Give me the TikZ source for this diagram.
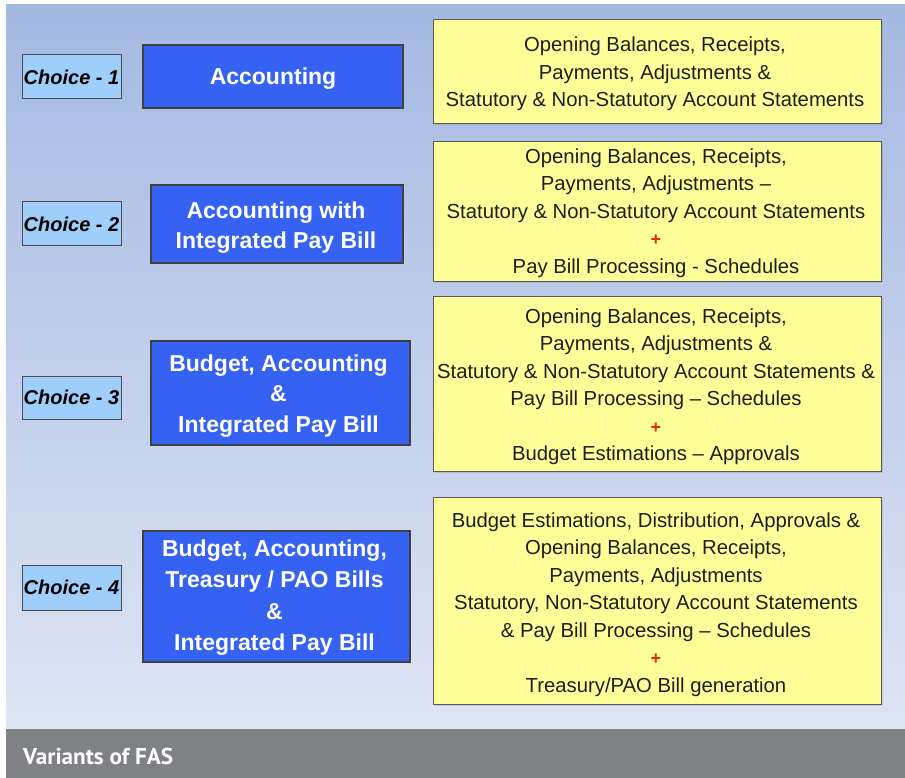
\documentclass[tikz,border=0pt]{standalone}
\usepackage{fontspec}
\setmainfont{Liberation Sans}
\newfontfamily\capfont{PT Sans}
\usetikzlibrary{shadows}
\definecolor{bgtop}{RGB}{164,185,226}
\definecolor{bgbot}{RGB}{222,229,244}
\definecolor{band}{RGB}{128,129,133}
\definecolor{choicefill}{RGB}{160,206,250}
\definecolor{bluefill}{RGB}{54,98,244}
\definecolor{yellowfill}{RGB}{255,255,153}
\definecolor{plusred}{RGB}{235,40,20}
\definecolor{txtdark}{RGB}{30,30,30}
\newcommand{\redplus}{\textcolor{plusred}{\fontsize{18}{27.5}\selectfont\bfseries +}}
\begin{document}
\begin{tikzpicture}[x=1pt,y=-1pt,
  choicebox/.style={draw=black!70, line width=1pt, fill=choicefill, inner sep=0pt,
    minimum width=99pt, minimum height=44pt,
    font=\fontsize{20}{24}\selectfont\bfseries\itshape, text=black},
  bluebox/.style={draw=black!75, line width=1.2pt, fill=bluefill, inner sep=0pt},
  yellowbox/.style={draw=black!65, line width=1pt, fill=yellowfill, inner sep=0pt,
    drop shadow={opacity=0.25, shadow xshift=1.5pt, shadow yshift=-1.5pt}},
  bluetext/.style={text=white, align=center, inner sep=0pt},
  ytext/.style={text=txtdark, align=center, inner sep=0pt, anchor=north,
    font=\fontsize{20.3}{27.5}\selectfont},
]
% background
\fill[white] (0,0) rectangle (905,778);
\shade[top color=bgtop, bottom color=bgbot] (6,5) rectangle (905,729);
\fill[band] (6,729) rectangle (905,778);
\node[anchor=base west, inner sep=0pt, text=white] (cap) at (23,764)
  {\resizebox{150pt}{\height}{\capfont\bfseries\fontsize{22.9}{24}\selectfont Variants of FAS}};

% choice boxes
\node[choicebox] (c1) at (71.5,77) {Choice - 1};
\node[choicebox] (c2) at (71.5,224) {Choice - 2};
\node[choicebox, minimum height=43pt] (c3) at (71.5,397.5) {Choice - 3};
\node[choicebox, minimum height=45pt] (c4) at (71.5,587.5) {Choice - 4};

% blue boxes
\node[bluebox, minimum width=260pt, minimum height=63pt] (b1) at (273,76.5) {};
\node[bluebox, minimum width=252pt, minimum height=78pt] (b2) at (277,224) {};
\node[bluebox, minimum width=259pt, minimum height=104pt] (b3) at (280.5,393) {};
\node[bluebox, minimum width=267pt, minimum height=131pt] (b4) at (276.5,596.5) {};

\node[bluetext, anchor=base, font=\fontsize{23}{30}\selectfont\bfseries] (bt1) at (273,85) {Accounting};
\node[bluetext, anchor=north, font=\fontsize{23}{30}\selectfont\bfseries] (bt2) at (276,201.2)
  {Accounting with\\Integrated Pay Bill};
\node[bluetext, anchor=north, font=\fontsize{23}{30.5}\selectfont\bfseries] (bt3) at (278.5,354.2)
  {Budget, Accounting\\\&\\ Integrated Pay Bill};
\node[bluetext, anchor=north, font=\fontsize{23}{31.5}\selectfont\bfseries] (bt4) at (274.5,539.2)
  {Budget, Accounting,\\Treasury / PAO Bills\\\&\\Integrated Pay Bill};

% yellow boxes
\node[yellowbox, minimum width=448pt, minimum height=104pt] (y1) at (657,72) {};
\node[yellowbox, minimum width=448pt, minimum height=139pt] (y2) at (657,211.5) {};
\node[yellowbox, minimum width=448pt, minimum height=175pt] (y3) at (657,383.5) {};
\node[yellowbox, minimum width=448pt, minimum height=207pt] (y4) at (657,600.5) {};

\node[ytext] (yt1) at (655,37)
  {Opening Balances, Receipts,\\Payments, Adjustments \&\\Statutory \& Non-Statutory Account Statements};
\node[ytext] (yt2) at (656,148.2)
  {Opening Balances, Receipts,\\Payments, Adjustments --\\Statutory \& Non-Statutory Account Statements\\\redplus\\Pay Bill Processing - Schedules};
\node[ytext] (yt3) at (656,308.2)
  {Opening Balances, Receipts,\\Payments, Adjustments \&\\Statutory \& Non-Statutory Account Statements \&\\Pay Bill Processing -- Schedules\\\redplus\\Budget Estimations -- Approvals};
\node[ytext] (yt4) at (656,512.2)
  {Budget Estimations, Distribution, Approvals \&\\Opening Balances, Receipts,\\Payments, Adjustments\\Statutory, Non-Statutory Account Statements\\\& Pay Bill Processing -- Schedules\\\redplus\\Treasury/PAO Bill generation};
\end{tikzpicture}
\end{document}
